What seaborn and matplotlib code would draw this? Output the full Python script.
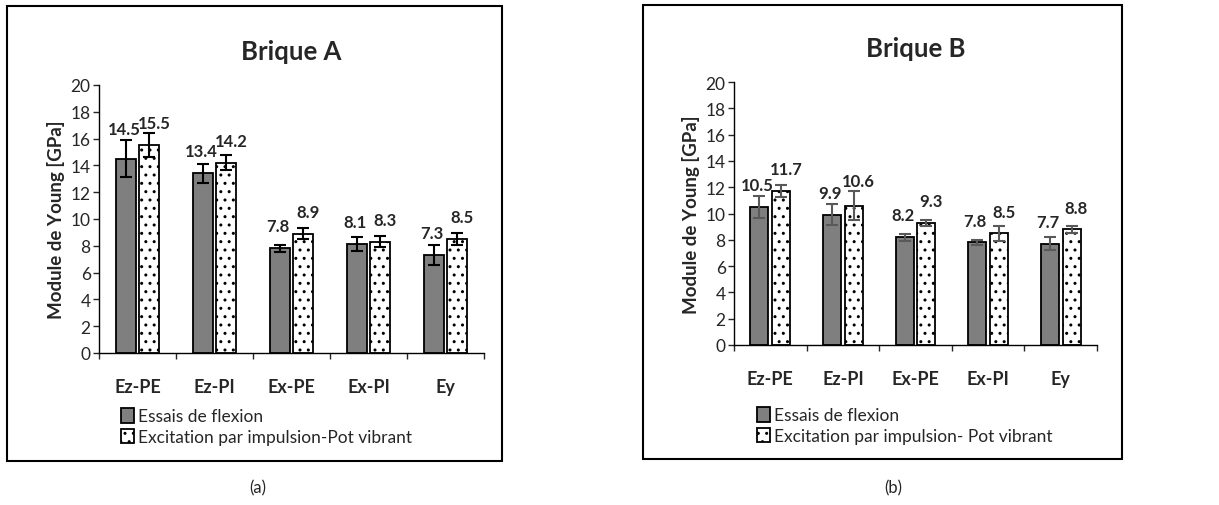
import pandas as pd
import seaborn as sns
import matplotlib
matplotlib.use('Agg')
import matplotlib.pyplot as plt
import matplotlib.patches as mpatches

# données
categories = ['Ez-PE', 'Ez-PI', 'Ex-PE', 'Ex-PI', 'Ey']
series_a = ['Essais de flexion', 'Excitation par impulsion-Pot vibrant']
series_b = ['Essais de flexion', 'Excitation par impulsion- Pot vibrant']

a_flex = [14.5, 13.4, 7.8, 8.1, 7.3]
a_exc = [15.5, 14.2, 8.9, 8.3, 8.5]
a_flex_err = [1.4, 0.72, 0.27, 0.52, 0.77]
a_exc_err = [0.9, 0.56, 0.4, 0.42, 0.43]

b_flex = [10.5, 9.9, 8.2, 7.8, 7.7]
b_exc = [11.7, 10.6, 9.3, 8.5, 8.8]
b_flex_err = [0.83, 0.8, 0.26, 0.18, 0.48]
b_exc_err = [0.45, 1.1, 0.22, 0.57, 0.25]

sns.set_style('white')
plt.rcParams['font.family'] = ['Lato', 'DejaVu Sans']
plt.rcParams['hatch.linewidth'] = 1.0

W, H = 1219, 506
fig = plt.figure(figsize=(W / 100, H / 100), dpi=100)


def draw_panel(rect, title, series, flex, exc, flex_err, exc_err, err_color, leg_anchor):
    ax = fig.add_axes(rect)
    df = pd.DataFrame({
        'cat': categories * 2,
        'serie': [series[0]] * 5 + [series[1]] * 5,
        'val': flex + exc,
    })
    sns.barplot(data=df, x='cat', y='val', hue='serie', ax=ax, order=categories,
                hue_order=series, palette=['#7f7f7f', 'white'], width=0.6, gap=0.17,
                edgecolor='black', linewidth=1.3, errorbar=None, legend=False, saturation=1)

    # barres d'erreur + étiquettes
    for cont, errs, vals, hatch, dx in zip(ax.containers, [flex_err, exc_err], [flex, exc],
                                           ['', '..'], [-1.5, 3.5]):
        for bar, e, v in zip(cont, errs, vals):
            bar.set_hatch(hatch)
            x = bar.get_x() + bar.get_width() / 2
            ax.errorbar(x, v, yerr=e, color=err_color, capsize=4.5, elinewidth=1.5,
                        capthick=1.5, zorder=5)
            y_lab = max(v + 1.65, v + e + 0.8)
            ax.annotate(f'{v:.1f}', (x, y_lab), xytext=(dx, 0), textcoords='offset points',
                        ha='center', va='center', fontweight='bold', fontsize=12)

    ax.set_ylim(0, 20)
    ax.set_xlim(-0.5, 4.5)
    ax.set_yticks(range(0, 21, 2))
    ax.set_xticks(range(5))
    ax.set_xticks([i - 0.5 for i in range(6)], minor=True)
    ax.set_xticklabels(categories, fontweight='bold', fontsize=13)
    ax.tick_params(axis='x', which='major', length=0, pad=18)
    ax.tick_params(axis='x', which='minor', length=4, width=1, direction='out', bottom=True)
    ax.tick_params(axis='y', length=4, width=1, direction='out', left=True, labelsize=12.5, pad=2)
    ax.set_xlabel('')
    ax.set_ylabel('Module de Young [GPa]', fontweight='bold', fontsize=13.5, labelpad=4)
    ax.set_title(title, fontweight='bold', fontsize=18.5, pad=19)
    sns.despine(ax=ax)
    for s in ['left', 'bottom']:
        ax.spines[s].set_color('black')
        ax.spines[s].set_linewidth(1)

    handles = [
        mpatches.Patch(facecolor='#7f7f7f', edgecolor='black', linewidth=1.3, label=series[0]),
        mpatches.Patch(facecolor='white', edgecolor='black', linewidth=1.3, hatch='..', label=series[1]),
    ]
    ax.legend(handles=handles, loc='upper left', bbox_to_anchor=leg_anchor, frameon=False,
              fontsize=12.5, handlelength=0.75, handleheight=0.9, handletextpad=0.2,
              labelspacing=0.25, borderaxespad=0)
    return ax


def fx(px):
    return px / W


def fy(py):
    return 1 - py / H


draw_panel([fx(99), fy(354), fx(484 - 99), (354 - 86) / H], 'Brique A', series_a,
           a_flex, a_exc, a_flex_err, a_exc_err, 'black', (0.04, -0.18))
draw_panel([fx(734), fy(346), fx(1097 - 734), (346 - 83) / H], 'Brique B', series_b,
           b_flex, b_exc, b_flex_err, b_exc_err, '#595959', (0.045, -0.21))

# cadres
fig.add_artist(mpatches.Rectangle((fx(7), fy(462)), fx(502 - 7), (462 - 7) / H,
                                  transform=fig.transFigure, fill=False, lw=1.5, ec='black'))
fig.add_artist(mpatches.Rectangle((fx(643), fy(460)), fx(1122 - 643), (460 - 6) / H,
                                  transform=fig.transFigure, fill=False, lw=1.5, ec='black'))

fig.text(fx(258), fy(488), '(a)', ha='center', va='center', fontsize=12)
fig.text(fx(893), fy(488), '(b)', ha='center', va='center', fontsize=12)

fig.savefig('out.png', dpi=100, facecolor='white')
